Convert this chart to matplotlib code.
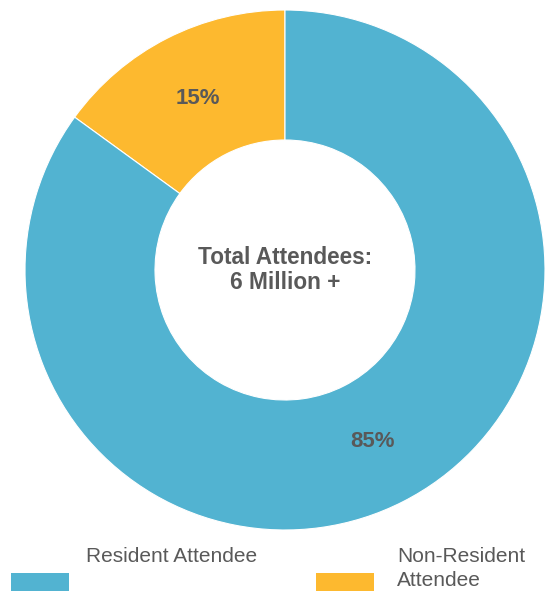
import matplotlib
matplotlib.use("Agg")
import matplotlib.pyplot as plt
from matplotlib.patches import Rectangle

plt.rcParams['font.family'] = ['Liberation Sans', 'DejaVu Sans']

categories = ["Non-Resident\nAttendee", "Resident Attendee"]
values = [15, 85]
colors = ["#FDB92F", "#52B3D1"]
center_text = "Total Attendees:\n6 Million +"
text_color = "#595959"

fig = plt.figure(figsize=(5.46, 5.91), dpi=100)
ax = fig.add_axes([25/546, 61/591, 520/546, 520/591])
wedges, texts, autotexts = ax.pie(
    values, colors=colors, startangle=90, counterclock=True,
    autopct=lambda p: f"{p:.0f}%", pctdistance=0.74,
    wedgeprops=dict(width=0.5, edgecolor="white", linewidth=0.8),
    textprops=dict(color=text_color, fontsize=16, fontweight="bold"),
    radius=1.0,
)
ax.set_xlim(-1, 1)
ax.set_ylim(-1, 1)
ax.set_aspect("equal")
ax.axis("off")
ax.text(0, 0, center_text, ha="center", va="center", fontsize=16.3,
        fontweight="bold", color=text_color, linespacing=1.1)

# legend (manual, matching original layout)
W, H = 546, 591
legend_items = [(1, 11, 86), (0, 316, 397)]
for idx, rx, tx in legend_items:
    fig.patches.append(Rectangle((rx / W, 0), 58 / W, 18 / H,
                                 transform=fig.transFigure,
                                 facecolor=colors[idx], edgecolor="none"))
    for i, line in enumerate(categories[idx].split("\n")):
        fig.text(tx / W, (H - 562 - 24 * i) / H, line, ha="left",
                 va="baseline", fontsize=15, color=text_color)

fig.savefig("out.png", dpi=100)
